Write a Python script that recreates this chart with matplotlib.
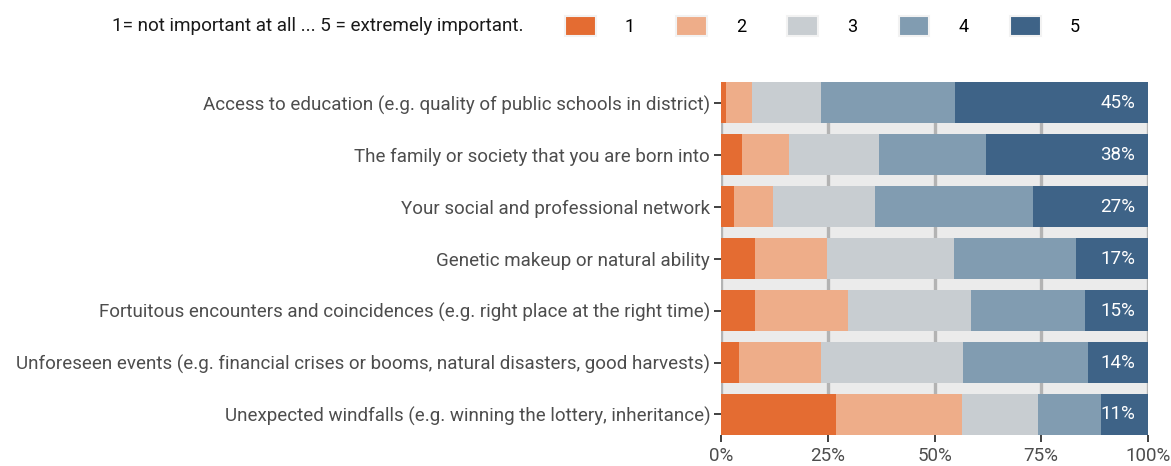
import matplotlib
matplotlib.use('Agg')
import matplotlib.pyplot as plt
from matplotlib.patches import Patch
import numpy as np

plt.rcParams['font.family'] = ['Roboto', 'DejaVu Sans']

# categories, top to bottom
factors = [
    'Access to education (e.g. quality of public schools in district)',
    'The family or society that you are born into',
    'Your social and professional network',
    'Genetic makeup or natural ability',
    'Fortuitous encounters and coincidences (e.g. right place at the right time)',
    'Unforeseen events (e.g. financial crises or booms, natural disasters, good harvests)',
    'Unexpected windfalls (e.g. winning the lottery, inheritance)',
]
# share of answers (%) for ratings 1..5
r1 = [1.2, 4.9, 3.0, 7.9, 7.9, 4.1, 26.8]
r2 = [6.0, 11.0, 9.1, 16.9, 21.9, 19.2, 29.7]
r3 = [16.2, 21.1, 24.0, 29.8, 28.7, 33.4, 17.7]
r4 = [31.3, 25.1, 37.0, 28.6, 26.7, 29.3, 14.9]
r5 = [45.3, 37.9, 26.9, 16.8, 14.8, 14.0, 10.9]
ratings = ['1', '2', '3', '4', '5']
colors = ['#E46C32', '#EEAD89', '#C8CDD1', '#819CB1', '#3E6387']
legend_title = '1= not important at all ... 5 = extremely important.'

fig = plt.figure(figsize=(11.71, 4.66), dpi=100)
ax = fig.add_axes([0.616, 0.066, 0.3642, 0.7577])
ax.set_facecolor('#EBEBEB')

y = np.arange(len(factors))
left = np.zeros(len(factors))
for vals, col in zip([r1, r2, r3, r4, r5], colors):
    ax.barh(y, vals, left=left, height=0.79, color=col, zorder=3)
    left += np.array(vals)

for yi, v in zip(y, r5):
    ax.text(97, yi, '%d%%' % round(v), color='white', ha='right', va='center',
            fontsize=13.5, zorder=4)

ax.set_xlim(0, 100)
ax.set_ylim(len(factors) - 0.6, -0.4)
ax.set_xticks([0, 25, 50, 75, 100])
ax.set_xticklabels(['0%', '25%', '50%', '75%', '100%'])
ax.set_yticks(y)
ax.set_yticklabels(factors)
for xv in [0, 25, 50, 75, 100]:
    ax.axvline(xv, color='#B3B3B3', lw=2.4, zorder=1)
for s in ax.spines.values():
    s.set_visible(False)
ax.tick_params(axis='both', colors='#333333', labelcolor='#4D4D4D',
               labelsize=13.5, length=5, width=1.3)
ax.tick_params(axis='y', pad=3)

fig.text(112 / 1171, 1 - 26 / 466, legend_title, fontsize=13.6, color='#1A1A1A',
         va='center', ha='left')
handles = [Patch(facecolor=c, edgecolor='#F2F2F2', lw=1.5) for c in colors]
fig.legend(handles, ratings, loc='center left',
           bbox_to_anchor=(565 / 1171, 1 - 26 / 466), ncol=5, frameon=False,
           fontsize=13, handlelength=1.7, handleheight=1.3, handletextpad=1.6,
           columnspacing=2.3, borderpad=0, borderaxespad=0)

fig.savefig('out.png', dpi=100)
